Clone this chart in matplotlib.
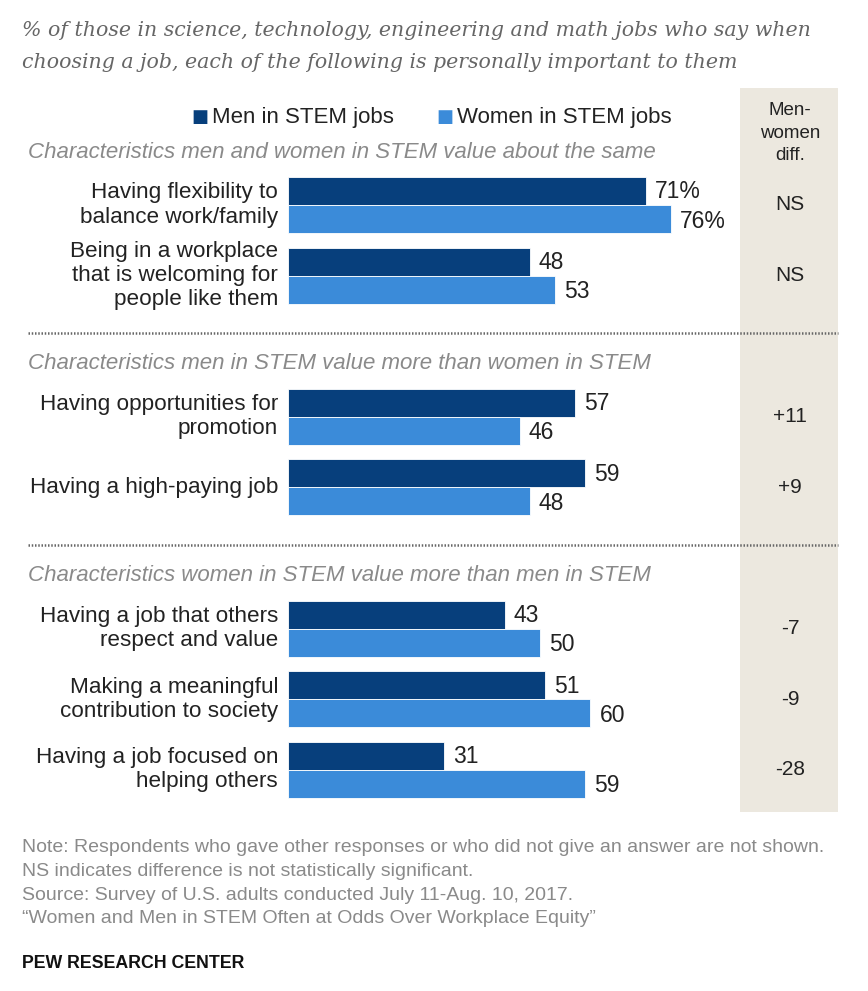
import matplotlib
matplotlib.use('Agg')
import matplotlib.pyplot as plt
from matplotlib.patches import Rectangle
from matplotlib.lines import Line2D

W, H = 868, 991

sections = [
    'Characteristics men and women in STEM value about the same',
    'Characteristics men in STEM value more than women in STEM',
    'Characteristics women in STEM value more than men in STEM',
]
labels = [
    'Having flexibility to\nbalance work/family',
    'Being in a workplace\nthat is welcoming for\npeople like them',
    'Having opportunities for\npromotion',
    'Having a high-paying job',
    'Having a job that others\nrespect and value',
    'Making a meaningful\ncontribution to society',
    'Having a job focused on\nhelping others',
]
section_of = [0, 0, 1, 1, 2, 2, 2]
men = [71, 48, 57, 59, 43, 51, 31]
women = [76, 53, 46, 48, 50, 60, 59]
diffs = ['NS', 'NS', '+11', '+9', '-7', '-9', '-28']

MEN_C = '#073f7c'
WOMEN_C = '#3b8bd9'
TXT = '#222222'
GRAY = '#8a8a8a'
SANS = ['Liberation Sans', 'DejaVu Sans']

fig = plt.figure(figsize=(W / 100, H / 100), dpi=100)


def px(x, y):
    return x / W, 1 - y / H


def ftext(x, y, s, **kw):
    fx, fy = px(x, y)
    fig.text(fx, fy, s, **kw)


# row layout: one empty row between sections
rows = []
r = 0
prev = section_of[0]
for s in section_of:
    if s != prev:
        r += 1
        prev = s
    rows.append(r)
    r += 1
pitch, top_row = 70.6, 205
ys = [top_row + k * pitch for k in rows]
bh = 28

# diff column background
fx, fy = px(740, 812)
fig.patches.append(Rectangle((fx, fy), 98 / W, 724 / H, transform=fig.transFigure,
                             facecolor='#ece8df', edgecolor='none', zorder=0))

ax = fig.add_axes([288 / W, 0, 1 - 288 / W, 1])
ax.set_xlim(0, (W - 288) / 5.04)
ax.set_ylim(H, 0)
ax.axis('off')
ax.patch.set_alpha(0)

ax.barh([y - bh / 2 for y in ys], men, height=bh, color=MEN_C, edgecolor='white', linewidth=0.6)
ax.barh([y + bh / 2 for y in ys], women, height=bh, color=WOMEN_C, edgecolor='white', linewidth=0.6)

for i, y in enumerate(ys):
    m = f'{men[i]}%' if i == 0 else str(men[i])
    w = f'{women[i]}%' if i == 0 else str(women[i])
    ax.text(men[i] + 1.8, y - bh / 2 + 1, m, va='center', ha='left', fontsize=16.5,
            color=TXT, family=SANS)
    ax.text(women[i] + 1.8, y + bh / 2 + 2, w, va='center', ha='left', fontsize=16.5,
            color=TXT, family=SANS)
    ftext(278, y, labels[i], ha='right', va='center', fontsize=16.2, color=TXT,
          family=SANS, linespacing=1.2)
    ftext(790, y, diffs[i], ha='center', va='center', fontsize=15, color=TXT, family=SANS)

# section headers and separators
for s, name in enumerate(sections):
    first = ys[section_of.index(s)]
    ftext(28, first - 53, name, ha='left', va='center', fontsize=16, style='italic',
          color=GRAY, family=SANS)
    if s > 0:
        ly = first - 84
        x0, y0 = px(28, ly)
        x1, _ = px(838, ly)
        fig.lines.append(Line2D([x0, x1], [y0, y0], transform=fig.transFigure,
                                color='#666666', lw=1.8, linestyle=(0, (0.6, 0.7))))

# title
ftext(22, 30, '% of those in science, technology, engineering and math jobs who say when',
      ha='left', va='center', fontsize=14.8, style='italic', color='#666666', family='DejaVu Serif')
ftext(22, 62, 'choosing a job, each of the following is personally important to them',
      ha='left', va='center', fontsize=14.8, style='italic', color='#666666', family='DejaVu Serif')

# legend
for lx, name, c in [(200, 'Men in STEM jobs', MEN_C), (445, 'Women in STEM jobs', WOMEN_C)]:
    ftext(lx, 117, '\u25a0', ha='center', va='center', fontsize=13, color=c, family='DejaVu Sans')
    ftext(lx + 12, 117, name, ha='left', va='center', fontsize=16, color=TXT, family=SANS)

ftext(790, 133, 'Men-\nwomen\ndiff.', ha='center', va='center', fontsize=13.5, color=TXT,
      family=SANS, linespacing=1.4)

# footer
notes = [
    'Note: Respondents who gave other responses or who did not give an answer are not shown.',
    'NS indicates difference is not statistically significant.',
    'Source: Survey of U.S. adults conducted July 11-Aug. 10, 2017.',
    '\u201cWomen and Men in STEM Often at Odds Over Workplace Equity\u201d',
]
for k, line in enumerate(notes):
    ftext(22, 848 + k * 23.5, line, ha='left', va='center', fontsize=14, color=GRAY,
          family=SANS)
ftext(22, 963, 'PEW RESEARCH CENTER', ha='left', va='center', fontsize=12.8, weight='bold',
      color='#111111', family=SANS)

fig.savefig('out.png', dpi=100)
